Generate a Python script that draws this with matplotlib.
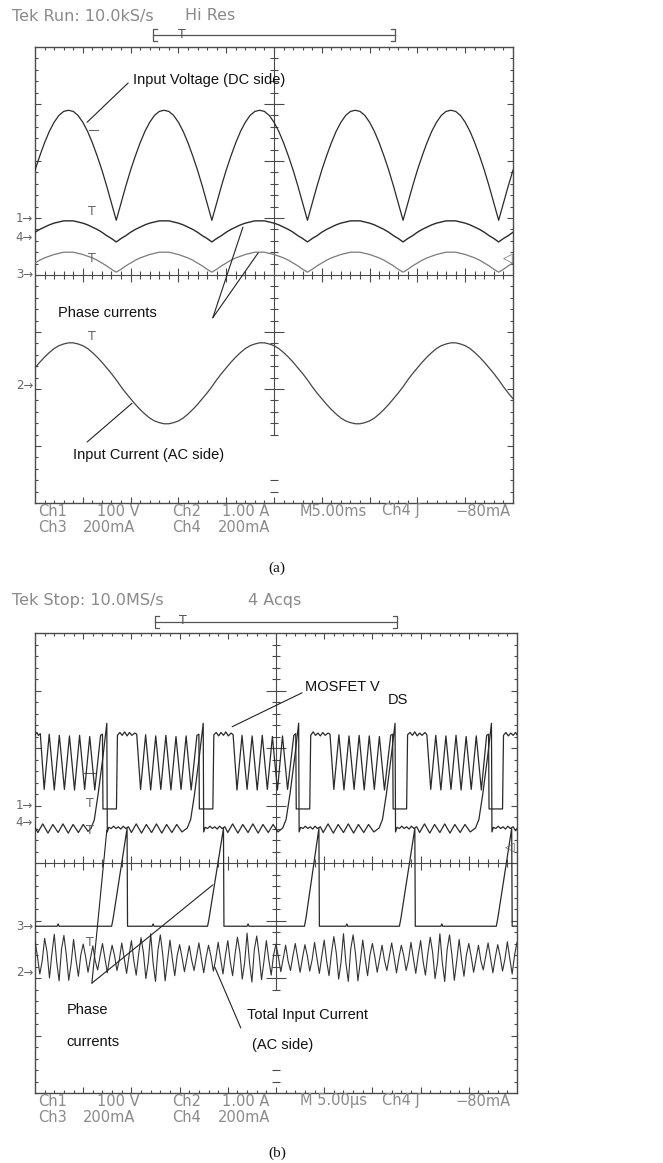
import numpy as np
import matplotlib.pyplot as plt
from matplotlib.collections import LineCollection

W, H = 663, 1163

# ---------------- panel (a): 10 ms rectifier waveforms, values in divisions
t_a = np.linspace(0, 10, 101)   # time base, 0.1 div per sample

volt_a = [1.84, 2.09, 2.32, 2.52, 2.68, 2.80, 2.87, 2.89, 2.87, 2.80, 2.68, 2.52, 2.32, 2.09, 1.84, 1.56, 1.26,
          0.96, 1.26, 1.56, 1.84, 2.09, 2.32, 2.52, 2.68, 2.80, 2.87, 2.89, 2.87, 2.80, 2.68, 2.52, 2.32, 2.09, 1.84, 1.56, 1.26,
          0.96, 1.26, 1.56, 1.84, 2.09, 2.32, 2.52, 2.68, 2.80, 2.87, 2.89, 2.87, 2.80, 2.68, 2.52, 2.32, 2.09, 1.84, 1.56, 1.26,
          0.96, 1.26, 1.56, 1.84, 2.09, 2.32, 2.52, 2.68, 2.80, 2.87, 2.89, 2.87, 2.80, 2.68, 2.52, 2.32, 2.09, 1.84, 1.56, 1.26,
          0.96, 1.26, 1.56, 1.84, 2.09, 2.32, 2.52, 2.68, 2.80, 2.87, 2.89, 2.87, 2.80, 2.68, 2.52, 2.32, 2.09, 1.84, 1.56, 1.26,
          0.96, 1.26, 1.56, 1.84]

ph4_a = [0.75, 0.80, 0.84, 0.88, 0.91, 0.93, 0.95, 0.95, 0.95, 0.93, 0.91, 0.88, 0.84, 0.80, 0.75, 0.69, 0.64,
         0.58, 0.64, 0.69, 0.75, 0.80, 0.84, 0.88, 0.91, 0.93, 0.95, 0.95, 0.95, 0.93, 0.91, 0.88, 0.84, 0.80, 0.75, 0.69, 0.64,
         0.58, 0.64, 0.69, 0.75, 0.80, 0.84, 0.88, 0.91, 0.93, 0.95, 0.95, 0.95, 0.93, 0.91, 0.88, 0.84, 0.80, 0.75, 0.69, 0.64,
         0.58, 0.64, 0.69, 0.75, 0.80, 0.84, 0.88, 0.91, 0.93, 0.95, 0.95, 0.95, 0.93, 0.91, 0.88, 0.84, 0.80, 0.75, 0.69, 0.64,
         0.58, 0.64, 0.69, 0.75, 0.80, 0.84, 0.88, 0.91, 0.93, 0.95, 0.95, 0.95, 0.93, 0.91, 0.88, 0.84, 0.80, 0.75, 0.69, 0.64,
         0.58, 0.64, 0.69, 0.75]

ph3_a = [0.21, 0.26, 0.30, 0.33, 0.36, 0.38, 0.40, 0.40, 0.40, 0.38, 0.36, 0.33, 0.30, 0.26, 0.21, 0.16, 0.10,
         0.05, 0.10, 0.16, 0.21, 0.26, 0.30, 0.33, 0.36, 0.38, 0.40, 0.40, 0.40, 0.38, 0.36, 0.33, 0.30, 0.26, 0.21, 0.16, 0.10,
         0.05, 0.10, 0.16, 0.21, 0.26, 0.30, 0.33, 0.36, 0.38, 0.40, 0.40, 0.40, 0.38, 0.36, 0.33, 0.30, 0.26, 0.21, 0.16, 0.10,
         0.05, 0.10, 0.16, 0.21, 0.26, 0.30, 0.33, 0.36, 0.38, 0.40, 0.40, 0.40, 0.38, 0.36, 0.33, 0.30, 0.26, 0.21, 0.16, 0.10,
         0.05, 0.10, 0.16, 0.21, 0.26, 0.30, 0.33, 0.36, 0.38, 0.40, 0.40, 0.40, 0.38, 0.36, 0.33, 0.30, 0.26, 0.21, 0.16, 0.10,
         0.05, 0.10, 0.16, 0.21]

iac_a = [-1.63, -1.53, -1.44, -1.36, -1.29, -1.24, -1.21, -1.19, -1.19, -1.21, -1.24, -1.29, -1.36, -1.44, -1.53, -1.63,
         -1.73, -1.84, -1.96, -2.07, -2.17, -2.27, -2.36, -2.44, -2.51, -2.56, -2.59, -2.61, -2.61, -2.59, -2.56, -2.51,
         -2.44, -2.36, -2.27, -2.17, -2.07, -1.96, -1.84, -1.73,
         -1.63, -1.53, -1.44, -1.36, -1.29, -1.24, -1.21, -1.19, -1.19, -1.21, -1.24, -1.29, -1.36, -1.44, -1.53, -1.63,
         -1.73, -1.84, -1.96, -2.07, -2.17, -2.27, -2.36, -2.44, -2.51, -2.56, -2.59, -2.61, -2.61, -2.59, -2.56, -2.51,
         -2.44, -2.36, -2.27, -2.17, -2.07, -1.96, -1.84, -1.73,
         -1.63, -1.53, -1.44, -1.36, -1.29, -1.24, -1.21, -1.19, -1.19, -1.21, -1.24, -1.29, -1.36, -1.44, -1.53, -1.63,
         -1.73, -1.84, -1.96, -2.07, -2.17]

# ---------------- panel (b): 5 us switching waveforms, (time, value) in divisions
vds_b = [(0.00, 2.23), (0.04, 2.27), (0.07, 2.22), (0.11, 2.25),
         (0.19, 1.28), (0.295, 2.24), (0.40, 1.27), (0.505, 2.22), (0.61, 1.28), (0.715, 2.21),
         (0.82, 1.27), (0.925, 2.22), (1.03, 1.28), (1.135, 2.20), (1.24, 1.27), (1.36, 2.22), (1.40, 2.24),
         (1.41, 0.94), (1.69, 0.94), (1.71, 2.22), (1.76, 2.27), (1.81, 2.22), (1.86, 2.28), (1.91, 2.21),
         (1.96, 2.27), (2.01, 2.22), (2.07, 2.26), (2.11, 2.24),
         (2.19, 1.28), (2.295, 2.23), (2.40, 1.27), (2.505, 2.21), (2.61, 1.28), (2.715, 2.22),
         (2.82, 1.27), (2.925, 2.20), (3.03, 1.28), (3.135, 2.21), (3.24, 1.27), (3.36, 2.22), (3.40, 2.24),
         (3.41, 0.94), (3.69, 0.94), (3.71, 2.23), (3.76, 2.27), (3.81, 2.21), (3.86, 2.27), (3.91, 2.22),
         (3.96, 2.28), (4.01, 2.21), (4.07, 2.26), (4.11, 2.23),
         (4.19, 1.27), (4.295, 2.22), (4.40, 1.28), (4.505, 2.21), (4.61, 1.27), (4.715, 2.22),
         (4.82, 1.28), (4.925, 2.20), (5.03, 1.27), (5.135, 2.21), (5.24, 1.28), (5.37, 2.22), (5.41, 2.25),
         (5.42, 0.94), (5.70, 0.94), (5.72, 2.22), (5.77, 2.28), (5.82, 2.22), (5.87, 2.26), (5.92, 2.21),
         (5.97, 2.27), (6.02, 2.22), (6.08, 2.26), (6.12, 2.24),
         (6.20, 1.28), (6.305, 2.23), (6.41, 1.27), (6.515, 2.21), (6.62, 1.28), (6.725, 2.22),
         (6.83, 1.27), (6.935, 2.21), (7.04, 1.28), (7.145, 2.20), (7.25, 1.27), (7.38, 2.22), (7.42, 2.24),
         (7.43, 0.94), (7.71, 0.94), (7.73, 2.23), (7.78, 2.27), (7.83, 2.22), (7.88, 2.28), (7.93, 2.21),
         (7.98, 2.26), (8.03, 2.22), (8.09, 2.27), (8.13, 2.23),
         (8.21, 1.28), (8.315, 2.22), (8.42, 1.27), (8.525, 2.21), (8.63, 1.28), (8.735, 2.22),
         (8.84, 1.27), (8.945, 2.20), (9.05, 1.28), (9.155, 2.21), (9.26, 1.27), (9.37, 2.22), (9.41, 2.24),
         (9.42, 0.94), (9.70, 0.94), (9.72, 2.22), (9.77, 2.27), (9.82, 2.21), (9.87, 2.26), (9.92, 2.22),
         (9.97, 2.27), (10.00, 2.23)]

ph4_b = [(0.00, 0.62), (0.06, 0.53), (0.16, 0.68), (0.27, 0.52), (0.37, 0.67), (0.48, 0.53), (0.58, 0.68),
         (0.69, 0.52), (0.79, 0.67), (0.90, 0.53), (1.00, 0.67), (1.10, 0.55), (1.16, 0.60),
         (1.23, 0.75), (1.31, 1.20), (1.41, 1.85), (1.49, 2.43), (1.50, 0.54),
         (1.53, 0.62), (1.58, 0.60), (1.63, 0.64), (1.68, 0.60), (1.73, 0.63), (1.78, 0.59), (1.83, 0.64),
         (1.88, 0.60), (1.94, 0.63), (2.00, 0.53), (2.10, 0.68), (2.21, 0.52), (2.31, 0.67), (2.42, 0.53),
         (2.52, 0.68), (2.63, 0.52), (2.73, 0.67), (2.84, 0.53), (2.94, 0.67), (3.05, 0.54), (3.16, 0.61),
         (3.23, 0.76), (3.31, 1.20), (3.41, 1.86), (3.49, 2.43), (3.50, 0.54),
         (3.53, 0.62), (3.58, 0.60), (3.63, 0.64), (3.68, 0.60), (3.73, 0.63), (3.78, 0.59), (3.83, 0.64),
         (3.88, 0.60), (3.94, 0.63), (4.00, 0.53), (4.10, 0.68), (4.21, 0.52), (4.31, 0.67), (4.42, 0.53),
         (4.52, 0.68), (4.63, 0.52), (4.73, 0.67), (4.84, 0.53), (4.94, 0.67), (5.04, 0.54), (5.14, 0.61),
         (5.21, 0.76), (5.29, 1.20), (5.39, 1.85), (5.47, 2.43), (5.48, 0.54),
         (5.51, 0.62), (5.56, 0.60), (5.61, 0.64), (5.66, 0.60), (5.71, 0.63), (5.76, 0.59), (5.81, 0.64),
         (5.86, 0.60), (5.92, 0.63), (5.98, 0.53), (6.08, 0.68), (6.19, 0.52), (6.29, 0.67), (6.40, 0.53),
         (6.50, 0.68), (6.61, 0.52), (6.71, 0.67), (6.82, 0.53), (6.92, 0.67), (7.03, 0.54), (7.14, 0.61),
         (7.21, 0.76), (7.29, 1.20), (7.39, 1.85), (7.47, 2.43), (7.48, 0.54),
         (7.51, 0.62), (7.56, 0.60), (7.61, 0.64), (7.66, 0.60), (7.71, 0.63), (7.76, 0.59), (7.81, 0.64),
         (7.86, 0.60), (7.92, 0.63), (7.98, 0.53), (8.08, 0.68), (8.19, 0.52), (8.29, 0.67), (8.40, 0.53),
         (8.50, 0.68), (8.61, 0.52), (8.71, 0.67), (8.82, 0.53), (8.92, 0.67), (9.03, 0.54), (9.14, 0.61),
         (9.21, 0.76), (9.29, 1.20), (9.39, 1.85), (9.47, 2.43), (9.48, 0.54),
         (9.51, 0.62), (9.56, 0.60), (9.61, 0.64), (9.66, 0.60), (9.71, 0.63), (9.76, 0.59), (9.81, 0.64),
         (9.86, 0.60), (9.92, 0.63), (9.97, 0.56), (10.00, 0.60)]

ph3_b = [(0.00, -1.10), (0.46, -1.10), (0.48, -1.06), (0.50, -1.10),
         (1.59, -1.10), (1.62, -0.97), (1.91, 0.60), (1.92, -1.10),
         (2.43, -1.10), (2.45, -1.06), (2.47, -1.10),
         (3.58, -1.10), (3.61, -0.97), (3.91, 0.60), (3.92, -1.10),
         (4.40, -1.10), (4.42, -1.06), (4.44, -1.10),
         (5.59, -1.10), (5.62, -0.97), (5.89, 0.60), (5.90, -1.10),
         (6.45, -1.10), (6.47, -1.06), (6.49, -1.10),
         (7.56, -1.10), (7.59, -0.97), (7.88, 0.60), (7.89, -1.10),
         (8.42, -1.10), (8.44, -1.06), (8.46, -1.10),
         (9.57, -1.10), (9.60, -0.97), (9.89, 0.60), (9.90, -1.10), (10.00, -1.10)]

t_b = np.linspace(0, 10, 201)   # time base, 0.05 div per sample
itot_b = [-1.36, -1.62, -1.93, -1.70, -1.31, -1.55, -2.00, -1.58, -1.24, -1.72, -2.05, -1.50,
          -1.26, -1.60, -2.04, -1.75, -1.33, -1.68, -1.97, -1.60, -1.41, -1.63, -1.90, -1.66,
          -1.44, -1.70, -1.86, -1.62, -1.40, -1.66, -1.91, -1.64, -1.43, -1.61, -1.87, -1.68,
          -1.39, -1.65, -1.92, -1.62, -1.35, -1.70, -1.95, -1.58, -1.30, -1.56, -2.01, -1.72,
          -1.23, -1.74, -2.06, -1.52, -1.25, -1.59, -2.05, -1.70, -1.34, -1.67, -1.96, -1.61,
          -1.42, -1.64, -1.89, -1.67, -1.44, -1.69, -1.87, -1.63, -1.39, -1.65, -1.91, -1.64,
          -1.43, -1.62, -1.88, -1.67, -1.38, -1.66, -1.93, -1.61, -1.35, -1.71, -1.96, -1.59,
          -1.29, -1.55, -2.02, -1.73, -1.22, -1.73, -2.07, -1.51, -1.27, -1.60, -2.03, -1.71,
          -1.35, -1.68, -1.95, -1.60, -1.41, -1.64, -1.89, -1.66, -1.43, -1.70, -1.87, -1.62,
          -1.40, -1.65, -1.90, -1.65, -1.42, -1.61, -1.88, -1.68, -1.38, -1.66, -1.92, -1.62,
          -1.34, -1.70, -1.96, -1.57, -1.28, -1.56, -2.02, -1.72, -1.23, -1.74, -2.06, -1.50,
          -1.25, -1.58, -2.05, -1.71, -1.34, -1.67, -1.96, -1.60, -1.40, -1.63, -1.90, -1.67,
          -1.43, -1.69, -1.87, -1.63, -1.39, -1.64, -1.91, -1.65, -1.43, -1.61, -1.87, -1.68,
          -1.38, -1.66, -1.92, -1.61, -1.35, -1.70, -1.95, -1.58, -1.29, -1.56, -2.01, -1.73,
          -1.23, -1.73, -2.06, -1.51, -1.25, -1.60, -2.04, -1.70, -1.33, -1.68, -1.97, -1.60,
          -1.40, -1.63, -1.90, -1.66, -1.43, -1.70, -1.86, -1.62, -1.39, -1.65, -1.91, -1.64,
          -1.42, -1.62, -1.88, -1.67, -1.37, -1.66, -1.93, -1.60, -1.38]

TRACE = '#2a2a2a'
GRID = '#4a4a4a'
SCOPE_TXT = '#8a8a8a'
LBL = dict(family='Liberation Sans', fontsize=10.5, color='#111111', va='center')


def graticule(ax, vstop, vextra):
    ax.set_xlim(0, 10)
    ax.set_ylim(-4, 4)
    ax.set_xticks([])
    ax.set_yticks([])
    for s in ax.spines.values():
        s.set_color(GRID)
        s.set_linewidth(1.0)
    segs = []
    for x in np.round(np.arange(0.2, 9.9, 0.2), 2):
        major = abs(x - round(x)) < 1e-6
        L = 0.11 if major else 0.06
        C = 0.13 if major else 0.07
        segs += [[(x, 4), (x, 4 - L)], [(x, -4), (x, -4 + L)], [(x, -C), (x, C)]]
    for y in np.round(np.arange(-3.8, 3.9, 0.2), 2):
        major = abs(y - round(y)) < 1e-6
        L = 0.13 if major else 0.07
        C = 0.2 if major else 0.09
        segs += [[(0, y), (L, y)], [(10, y), (10 - L, y)]]
        if y >= vstop or y in vextra:
            segs.append([(5 - C, y), (5 + C, y)])
    segs += [[(0, 0), (10, 0)], [(5, vstop), (5, 4)]]
    ax.add_collection(LineCollection(segs, colors=GRID, linewidths=0.8, zorder=1))


def chan_marks(ax, marks):
    tr = ax.get_yaxis_transform()
    for name, y in marks:
        ax.text(-0.004, y, name + '\u2192', transform=tr, ha='right', va='center',
                fontsize=8.5, color='#666666', clip_on=False)


def leader(ax, start, end):
    ax.annotate('', xy=end, xytext=start,
                arrowprops=dict(arrowstyle='-', color='#222222', lw=0.8, shrinkA=0, shrinkB=0))


fig = plt.figure(figsize=(W / 100, H / 100), dpi=100)
fig.patch.set_facecolor('white')

# ---------------- panel (a)
axA = fig.add_axes([35 / W, 1 - 503 / H, 478 / W, 456 / H])
graticule(axA, -2.8, [-3.6, -3.8])
axA.plot(t_a, volt_a, color=TRACE, lw=0.9, zorder=3)
axA.plot(t_a, ph4_a, color=TRACE, lw=1.0, zorder=3)
axA.plot(t_a, ph3_a, color='#7a7a7a', lw=0.9, zorder=3)
axA.plot(t_a, iac_a, color='#444444', lw=0.9, zorder=3)
chan_marks(axA, [('1', 1.0), ('4', 0.65), ('3', 0.0), ('2', -1.93)])
for y in [1.0, 0.18, -1.19]:
    axA.text(1.19, y, 'T', ha='center', va='bottom', fontsize=9, color='#666666')
axA.plot([1.12, 1.32], [2.54, 2.54], color='#666666', lw=0.8)
axA.text(9.9, 0.3, '\u25c1', ha='center', va='center', fontsize=9, color='#666666')

axA.text(2.05, 3.42, 'Input Voltage (DC side)', **LBL)
leader(axA, (1.95, 3.37), (1.09, 2.68))
axA.text(0.48, -0.67, 'Phase currents', **LBL)
leader(axA, (3.72, -0.75), (4.35, 0.84))
leader(axA, (3.72, -0.75), (4.67, 0.39))
axA.text(0.79, -3.16, 'Input Current (AC side)', **LBL)
leader(axA, (1.09, -2.93), (2.03, -2.25))

# ---------------- panel (b)
axB = fig.add_axes([35 / W, 1 - 1093 / H, 482 / W, 460 / H])
graticule(axB, -2.2, [-3.6, -3.8])
vt, vv = np.array(vds_b).T
axB.plot(vt, vv, color=TRACE, lw=0.9, zorder=3)
pt, pv = np.array(ph4_b).T
axB.plot(pt, pv, color=TRACE, lw=0.9, zorder=3)
qt, qv = np.array(ph3_b).T
axB.plot(qt, qv, color=TRACE, lw=0.9, zorder=3)
axB.plot(t_b, itot_b, color='#333333', lw=0.8, zorder=3)
chan_marks(axB, [('1', 1.0), ('4', 0.7), ('3', -1.1), ('2', -1.9)])
for y in [0.92, 0.45, -1.5]:
    axB.text(1.14, y, 'T', ha='center', va='bottom', fontsize=9, color='#666666')
axB.plot([1.02, 1.26], [1.57, 1.57], color='#666666', lw=0.8)
axB.text(9.85, 0.28, '\u25c1', ha='center', va='center', fontsize=9, color='#666666')

axB.text(5.60, 3.06, 'MOSFET V', **LBL)
axB.text(7.32, 2.84, 'DS', **LBL)
leader(axB, (5.54, 2.96), (4.09, 2.37))
axB.text(0.66, -2.56, 'Phase', **LBL)
axB.text(0.66, -3.11, 'currents', **LBL)
leader(axB, (1.18, -2.09), (3.69, -0.38))
leader(axB, (1.18, -2.09), (1.49, 0.57))
axB.text(4.40, -2.64, 'Total Input Current', **LBL)
axB.text(4.50, -3.17, '(AC side)', **LBL)
leader(axB, (4.27, -2.87), (3.73, -1.81))

# ---------------- overlay in pixel units for the scope header/footer text
ov = fig.add_axes([0, 0, 1, 1])
ov.set_xlim(0, W)
ov.set_ylim(H, 0)
ov.axis('off')
st = dict(family='DejaVu Sans', fontsize=10.5, color=SCOPE_TXT, va='center')
hd = dict(st, fontsize=11.5)


def header(y, left, right, rx):
    ov.text(12, y, left, **hd)
    ov.text(rx, y, right, **hd)


def bracket(y, x0, x1, xt):
    ov.plot([x0, x1], [y, y], color='#555555', lw=0.9)
    for x, d in [(x0, 4), (x1, -4)]:
        ov.plot([x + d, x, x, x + d], [y - 6, y - 6, y + 6, y + 6], color='#555555', lw=0.9)
    ov.text(xt, y - 1, 'T', ha='center', va='center', fontsize=9, color='#555555')


def footer(y1, y2, mtext):
    for x, s in [(38, 'Ch1'), (97, '100 V'), (172, 'Ch2'), (222, '1.00 A'),
                 (300, mtext), (382, 'Ch4 \u0283'), (455, '\u221280mA')]:
        ov.text(x, y1, s, **st)
    for x, s in [(38, 'Ch3'), (83, '200mA'), (172, 'Ch4'), (218, '200mA')]:
        ov.text(x, y2, s, **st)


header(16, 'Tek Run: 10.0kS/s', 'Hi Res', 185)
bracket(35, 153, 395, 182)
footer(511, 528, 'M5.00ms')
ov.text(277, 568, '(a)', family='Liberation Serif', fontsize=11, ha='center', va='center', color='#111111')

header(601, 'Tek Stop: 10.0MS/s', '4 Acqs', 248)
bracket(622, 155, 397, 183)
footer(1101, 1118, 'M 5.00\u00b5s')
ov.text(277, 1153, '(b)', family='Liberation Serif', fontsize=11, ha='center', va='center', color='#111111')

fig.savefig('out.png', dpi=100)
